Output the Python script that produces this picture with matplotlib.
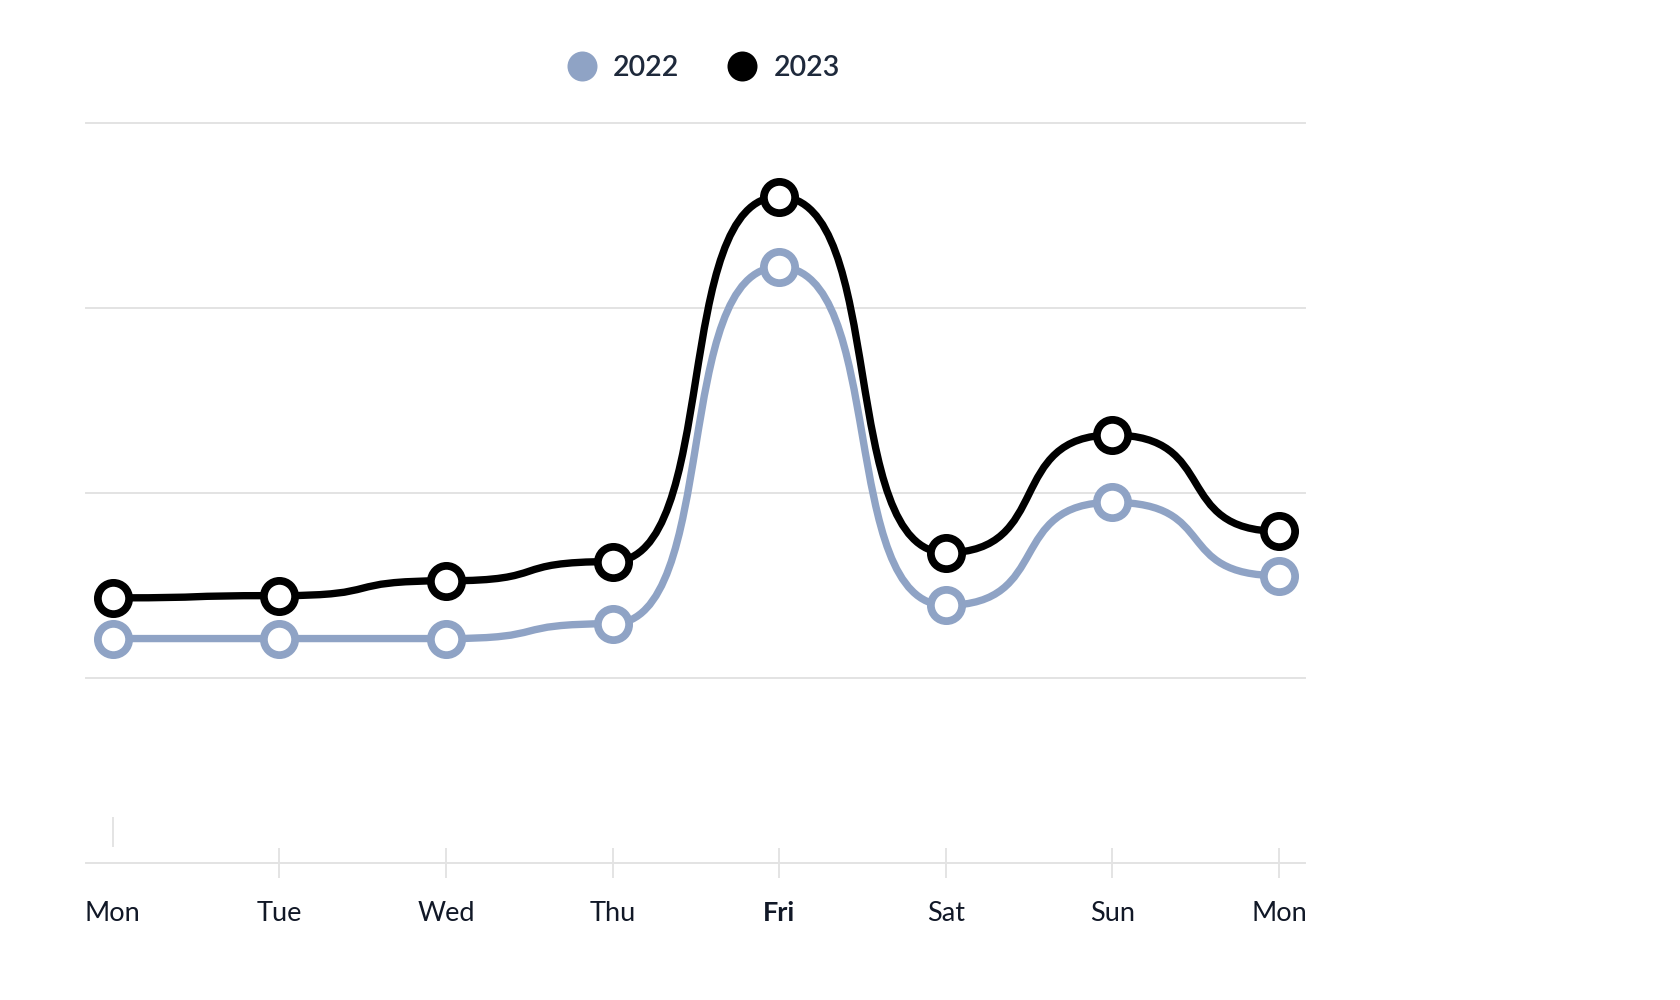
import matplotlib
matplotlib.use("Agg")
import matplotlib.pyplot as plt
from matplotlib.path import Path
from matplotlib.patches import PathPatch
from matplotlib.lines import Line2D
from matplotlib.transforms import ScaledTranslation

# ---- data ----
days = ["Mon", "Tue", "Wed", "Thu", "Fri", "Sat", "Sun", "Mon"]
values_2022 = [30.3, 30.3, 30.3, 32.3, 80.5, 34.8, 48.7, 38.8]
values_2023 = [35.8, 36.1, 38.1, 40.7, 90.0, 41.9, 57.8, 44.8]
series_names = ["2022", "2023"]
grid_values = [0, 25, 50, 75, 100]

color_2022 = "#8FA3C5"
color_2023 = "#000000"
grid_color = "#E3E3E3"
label_color = "#111827"
legend_text_color = "#1E293B"

plt.rcParams["font.family"] = ["Lato", "DejaVu Sans"]

W, H = 1680, 1000
fig = plt.figure(figsize=(W / 100, H / 100), dpi=100)
left_px, right_px, top_px, bottom_px = 85.7, 1305, 122.7, 862.8
ax = fig.add_axes([left_px / W, 1 - bottom_px / H, (right_px - left_px) / W, (bottom_px - top_px) / H])

xs = list(range(len(days)))


def bump_path(xv, yv, a=0.65):
    verts = [(xv[0], yv[0])]
    codes = [Path.MOVETO]
    for i in range(1, len(xv)):
        x0, y0, x1, y1 = xv[i - 1], yv[i - 1], xv[i], yv[i]
        dx = x1 - x0
        verts += [(x0 + a * dx, y0), (x1 - a * dx, y1), (x1, y1)]
        codes += [Path.CURVE4] * 3
    return Path(verts, codes)


lw = 5.3
for vals, col, z in [(values_2022, color_2022, 2), (values_2023, color_2023, 3)]:
    patch = PathPatch(bump_path(xs, vals), facecolor="none", edgecolor=col, lw=lw,
                      capstyle="round", joinstyle="round", zorder=z)
    ax.add_patch(patch)

for vals, col, z in [(values_2022, color_2022, 4), (values_2023, color_2023, 5)]:
    ax.plot(xs, vals, ls="none", marker="o", ms=22.5, mfc="white", mec=col, mew=5.6, zorder=z)

ax.set_xlim(-0.162, 7.156)
ax.set_ylim(0, 100)
ax.set_yticks(grid_values)
ax.yaxis.grid(True, color=grid_color, lw=1.4)
ax.set_axisbelow(True)
for gl in ax.get_ygridlines():
    gl.set_clip_on(False)
ax.tick_params(axis="y", left=False, labelleft=False)
for s in ax.spines.values():
    s.set_visible(False)

ax.set_xticks(xs)
ax.set_xticklabels(days, fontsize=19.5, color=label_color)
ax.tick_params(axis="x", direction="inout", length=21.6, width=1.1, color="#DCDCDC", pad=16.5)
ax.get_xticklabels()[4].set_fontweight("bold")

ticks = ax.xaxis.get_major_ticks()
t0 = ticks[0]
t0.tick1line.set_transform(t0.tick1line.get_transform() + ScaledTranslation(0, 0.307, fig.dpi_scale_trans))

handles = [
    Line2D([], [], ls="none", marker="o", ms=21.6, mfc=color_2022, mec=color_2022, mew=0),
    Line2D([], [], ls="none", marker="o", ms=21.6, mfc=color_2023, mec=color_2023, mew=0),
]
leg = fig.legend(handles, series_names, loc="center", bbox_to_anchor=(703 / W, 1 - 67.5 / H),
                 ncol=2, frameon=False, prop={"size": 20.5, "weight": "semibold"},
                 handlelength=1.1, handletextpad=0.55, columnspacing=1.65, borderaxespad=0, borderpad=0)
for t in leg.get_texts():
    t.set_color(legend_text_color)

fig.savefig("out.png", dpi=100, facecolor="white")
